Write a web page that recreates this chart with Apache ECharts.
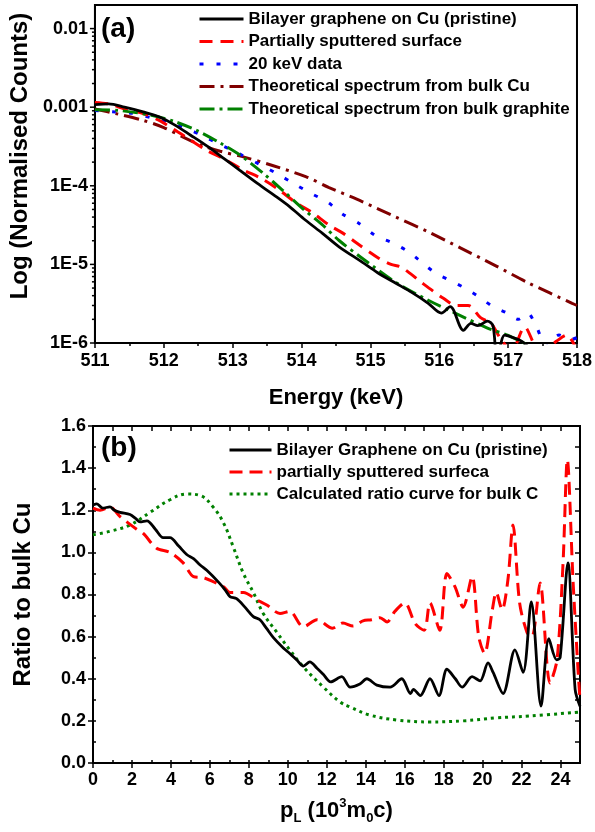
<!DOCTYPE html>
<html><head><meta charset="utf-8">
<script src="https://cdn.jsdelivr.net/npm/echarts@6/dist/echarts.min.js"></script>
<style>html,body{margin:0;padding:0;background:#fff}#c{width:595px;height:832px}</style>
</head><body><div id="c"></div><script>
const FONT = 'Arial, "Liberation Sans", sans-serif';

// ---------- Panel (a): Energy (keV) vs normalised counts ----------
const aPristine = [[511.0,1.08e-3],[511.2,1.1e-3],[511.43,1.0e-3],[511.7,8.7e-4],[511.92,7.6e-4],[512.15,6.0e-4],[512.39,4.4e-4],[512.63,3.2e-4],[512.87,2.24e-4],[513.1,1.58e-4],[513.36,1.07e-4],[513.6,7.6e-5],[513.83,5.4e-5],[514.05,3.7e-5],[514.3,2.5e-5],[514.55,1.66e-5],[514.88,1.07e-5],[515.1,7.9e-6],[515.37,5.75e-6],[515.6,4.4e-6],[515.84,3.2e-6],[516.03,2.4e-6],[516.16,2.9e-6],[516.35,1.45e-6],[516.46,1.78e-6],[516.56,1.66e-6],[516.7,1.9e-6],[516.78,1.66e-6],[516.84,6e-7],[516.95,1.26e-6],[517.1,1.15e-6],[517.2,1.05e-6],[517.35,8e-7]];
const aSputtered = [[511.0,1.15e-3],[511.2,1.1e-3],[511.43,9.5e-4],[511.7,8.3e-4],[511.92,6.9e-4],[512.15,5.2e-4],[512.39,3.8e-4],[512.63,2.8e-4],[512.87,2.2e-4],[513.16,1.58e-4],[513.4,1.26e-4],[513.64,9.3e-5],[513.93,6.0e-5],[514.15,4.6e-5],[514.4,3.16e-5],[514.6,2.5e-5],[514.79,1.9e-5],[515.12,1.2e-5],[515.3,1.0e-5],[515.44,9.3e-6],[515.6,7.4e-6],[515.74,5.9e-6],[516.06,3.7e-6],[516.25,3.0e-6],[516.42,3.0e-6],[516.6,2.1e-6],[516.75,1.78e-6],[516.9,1.1e-6],[517.05,8e-7],[517.24,1.6e-6],[517.4,9e-7],[517.52,8e-7],[517.7,1.05e-6],[517.85,1.26e-6],[518.0,8e-7]];
const a20keV = [[511.0,9.1e-4],[511.3,8.7e-4],[511.57,8.3e-4],[511.85,7.2e-4],[512.08,6.5e-4],[512.32,5.4e-4],[512.57,4.3e-4],[512.8,3.4e-4],[513.04,2.7e-4],[513.43,1.8e-4],[513.66,1.4e-4],[513.9,1.05e-4],[514.15,7.9e-5],[514.38,6.2e-5],[514.59,4.4e-5],[514.84,3.3e-5],[515.08,2.3e-5],[515.31,1.9e-5],[515.55,1.45e-5],[515.94,7.8e-6],[516.15,6.3e-6],[516.37,5.0e-6],[516.59,3.8e-6],[516.78,2.9e-6],[516.99,2.4e-6],[517.15,2.0e-6],[517.28,2.4e-6],[517.42,1.55e-6],[517.55,9e-7],[517.74,1.26e-6],[517.9,1.1e-6],[518.0,1.17e-6]];
const aTheoryCu = [[511.0,9.5e-4],[511.3,8.3e-4],[511.7,6.8e-4],[512.0,5.5e-4],[512.35,3.9e-4],[512.58,3.2e-4],[512.82,2.75e-4],[513.18,2.3e-4],[513.59,1.8e-4],[514.07,1.3e-4],[514.4,9.5e-5],[514.88,6.3e-5],[515.37,4.0e-5],[515.84,2.6e-5],[516.32,1.6e-5],[516.8,9.8e-6],[517.28,5.9e-6],[517.93,3.2e-6],[518.0,3.0e-6]];
const aTheoryGraphite = [[511.0,9.3e-4],[511.34,9.1e-4],[511.82,7.9e-4],[512.15,6.6e-4],[512.49,5.0e-4],[512.82,3.5e-4],[513.11,2.45e-4],[513.44,1.45e-4],[513.73,8.7e-5],[514.02,5.1e-5],[514.3,3.2e-5],[514.55,2.0e-5],[514.88,1.2e-5],[515.37,5.9e-6],[515.84,3.5e-6],[516.23,2.4e-6],[516.7,1.55e-6],[516.99,1.26e-6],[517.28,9.5e-7]];
const aYTickLabels = {'-6':'1E-6','-5':'1E-5','-4':'1E-4','-3':'0.001','-2':'0.01'};
const aNames = ['Bilayer graphene on Cu (pristine)','Partially sputtered surface','20 keV data','Theoretical spectrum from bulk Cu','Theoretical spectrum fron bulk graphite'];

// ---------- Panel (b): p_L vs ratio to bulk Cu ----------
const bPristine = [[0,1.225],[0.2,1.23],[0.5,1.21],[0.87,1.216],[1.1,1.2],[1.39,1.19],[1.9,1.18],[2.2,1.16],[2.41,1.145],[2.77,1.15],[3.2,1.11],[3.6,1.07],[3.95,1.07],[4.4,1.03],[4.81,0.99],[5.16,0.97],[5.5,0.94],[5.84,0.915],[6.43,0.86],[6.8,0.82],[7.03,0.79],[7.37,0.78],[7.8,0.74],[8.23,0.695],[8.57,0.68],[8.9,0.64],[9.26,0.595],[9.77,0.546],[10.1,0.52],[10.45,0.49],[10.8,0.46],[11.13,0.48],[11.5,0.45],[11.83,0.42],[12.2,0.385],[12.77,0.41],[13.2,0.36],[13.7,0.375],[14.06,0.40],[14.57,0.37],[15.25,0.36],[15.85,0.40],[16.3,0.33],[16.45,0.35],[16.8,0.32],[17.3,0.40],[17.76,0.32],[18.17,0.445],[18.6,0.40],[18.95,0.36],[19.46,0.41],[19.87,0.39],[20.28,0.475],[20.54,0.43],[21.05,0.33],[21.66,0.537],[22.08,0.43],[22.5,0.765],[23.0,0.27],[23.4,0.59],[23.8,0.49],[23.98,0.50],[24.38,0.95],[24.75,0.35],[25,0.27]];
const bSputtered = [[0,1.21],[0.36,1.20],[0.87,1.215],[1.39,1.17],[1.8,1.14],[2.24,1.11],[2.58,1.09],[3.26,1.02],[3.95,1.00],[4.63,0.95],[5.16,0.885],[5.67,0.88],[6.2,0.86],[6.7,0.837],[7.03,0.81],[7.72,0.81],[8.4,0.775],[8.92,0.75],[9.6,0.71],[10.1,0.72],[10.8,0.646],[11.5,0.68],[12.3,0.64],[12.83,0.665],[13.35,0.65],[13.86,0.675],[14.3,0.68],[14.73,0.69],[15.1,0.67],[15.5,0.72],[16.0,0.76],[16.55,0.66],[17.0,0.63],[17.3,0.76],[17.8,0.63],[18.17,0.90],[18.58,0.837],[19.0,0.74],[19.46,0.885],[19.8,0.60],[20.1,0.52],[20.5,0.727],[20.7,0.81],[21.0,0.727],[21.3,0.87],[21.56,1.13],[21.9,0.76],[22.28,0.62],[22.53,0.60],[22.95,0.855],[23.46,0.38],[23.82,0.49],[24.13,0.95],[24.35,1.44],[24.64,0.87],[24.9,0.44],[25,0.30]];
const bCalcC = [[0,1.083],[0.87,1.10],[1.9,1.13],[2.93,1.19],[3.95,1.25],[4.81,1.277],[5.5,1.27],[6.16,1.216],[6.7,1.14],[7.2,1.026],[7.72,0.90],[8.23,0.81],[8.74,0.71],[9.44,0.62],[10.1,0.537],[10.8,0.456],[11.83,0.36],[12.68,0.29],[13.2,0.266],[14.2,0.228],[15.6,0.204],[17.3,0.195],[19.0,0.20],[20.7,0.214],[22.4,0.223],[25,0.242]];
const bNames = ['Bilayer Graphene on Cu (pristine)','partially sputtered surfeca','Calculated ratio curve for bulk C'];

// log minor/major tick positions for panel (a) y axis
const aLogTicks = [];
for (let d = -6; d <= -2; d++) {
  aLogTicks.push([511, d, 1]);
  if (d < -2) for (let k = 2; k <= 9; k++) aLogTicks.push([511, d + Math.log10(k), 0]);
}

const toLog = arr => arr.map(p => [p[0], Math.log10(p[1])]);
const bold = {fontFamily: FONT, fontWeight: 'bold', color: '#000'};

const chart = echarts.init(document.getElementById('c'), null, {renderer: 'canvas'});
const axisLine = {show: true, onZero: false, lineStyle: {color: '#000', width: 2}};

function lineSeries(name, data, color, type, xi, yi, width, smooth) {
  return {name, type: 'line', xAxisIndex: xi, yAxisIndex: yi, data, showSymbol: false, symbol: 'none',
    smooth: smooth, clip: true, lineStyle: {color, width: width, type: type}, itemStyle: {color}, z: 3};
}

chart.setOption({
  animation: false,
  backgroundColor: '#fff',
  textStyle: {fontFamily: FONT},
  grid: [
    {left: 93, top: 5, width: 487, height: 338, show: true, borderColor: '#000', borderWidth: 2, backgroundColor: 'transparent'},
    {left: 93, top: 426, width: 487, height: 337, show: true, borderColor: '#000', borderWidth: 2, backgroundColor: 'transparent'}
  ],
  legend: [
    {data: aNames, orient: 'vertical', left: 193, top: 5, itemWidth: 44, itemHeight: 14, itemGap: 4.5,
      itemStyle: {opacity: 0}, lineStyle: {width: 3},
      textStyle: Object.assign({fontSize: 17, lineHeight: 18}, bold), selectedMode: false},
    {data: bNames, orient: 'vertical', left: 223, top: 436, itemWidth: 42, itemHeight: 14, itemGap: 4,
      itemStyle: {opacity: 0}, lineStyle: {width: 3},
      textStyle: Object.assign({fontSize: 17, lineHeight: 18}, bold), selectedMode: false}
  ],
  xAxis: [
    {gridIndex: 0, type: 'value', min: 511, max: 518, interval: 1, axisLine,
      axisTick: {show: true, length: 5, lineStyle: {width: 1.5, color: '#000'}},
      minorTick: {show: true, splitNumber: 2, length: 3, lineStyle: {width: 1.5, color: '#000'}},
      splitLine: {show: false}, minorSplitLine: {show: false},
      axisLabel: Object.assign({fontSize: 18, margin: 9}, bold),
      name: 'Energy (keV)', nameLocation: 'middle', nameGap: 44, nameTextStyle: Object.assign({fontSize: 22}, bold)},
    {gridIndex: 1, type: 'value', min: 0, max: 25, interval: 2, axisLine,
      axisTick: {show: true, length: 5, lineStyle: {width: 1.5, color: '#000'}},
      splitLine: {show: false},
      axisLabel: Object.assign({fontSize: 18, margin: 8}, bold),
      name: '{p|p}{sub|L}{t| (10}{sup|3}{t|m}{sub|0}{t|c)}', nameLocation: 'middle', nameGap: 34,
      nameTextStyle: {rich: {
        p: Object.assign({fontSize: 22, lineHeight: 28, verticalAlign: 'middle'}, bold),
        t: Object.assign({fontSize: 22, lineHeight: 28, verticalAlign: 'middle'}, bold),
        sub: Object.assign({fontSize: 13, lineHeight: 28, verticalAlign: 'bottom'}, bold),
        sup: Object.assign({fontSize: 13, lineHeight: 28, verticalAlign: 'top'}, bold)
      }}},
    {gridIndex: 1, type: 'value', position: 'top', min: 0, max: 25, interval: 1, axisLine,
      axisTick: {show: true, inside: true, length: 5, lineStyle: {width: 1.5, color: '#000'}},
      axisLabel: {show: false}, splitLine: {show: false}},
    {gridIndex: 1, type: 'value', position: 'bottom', min: 0, max: 25, interval: 1, axisLine: {show: false},
      axisTick: {show: true, inside: true, length: 3, lineStyle: {width: 1.5, color: '#000'}},
      axisLabel: {show: false}, splitLine: {show: false}}
  ],
  yAxis: [
    {gridIndex: 0, type: 'value', min: -6, max: -1.7, interval: 1, axisLine,
      axisTick: {show: false}, splitLine: {show: false},
      axisLabel: Object.assign({fontSize: 18, margin: 7, showMaxLabel: false,
        formatter: v => { const r = Math.round(v); return Math.abs(v - r) < 1e-6 ? (aYTickLabels[String(r)] || '') : ''; }}, bold),
      name: 'Log (Normalised Counts)', nameLocation: 'middle', nameGap: 58, nameRotate: 90,
      nameTextStyle: Object.assign({fontSize: 24, padding: [0, 0, 0, 36]}, bold)},
    {gridIndex: 1, type: 'value', min: 0, max: 1.6, interval: 0.2, axisLine,
      axisTick: {show: true, length: 5, lineStyle: {width: 1.5, color: '#000'}}, splitLine: {show: false},
      axisLabel: Object.assign({fontSize: 18, margin: 7, formatter: v => v.toFixed(1)}, bold),
      name: 'Ratio to bulk Cu', nameLocation: 'middle', nameGap: 58, nameRotate: 90,
      nameTextStyle: Object.assign({fontSize: 24}, bold)},
    {gridIndex: 1, type: 'value', position: 'right', min: 0, max: 1.6, interval: 0.1, axisLine,
      axisTick: {show: true, inside: true, length: 5, lineStyle: {width: 1.5, color: '#000'}},
      axisLabel: {show: false}, splitLine: {show: false}},
    {gridIndex: 1, type: 'value', position: 'left', min: 0, max: 1.6, interval: 0.1, axisLine: {show: false},
      axisTick: {show: true, inside: true, length: 3, lineStyle: {width: 1.5, color: '#000'}},
      axisLabel: {show: false}, splitLine: {show: false}}
  ],
  graphic: [
    {type: 'text', left: 101, top: 15, style: {text: '(a)', font: 'bold 28px ' + FONT, fill: '#000'}},
    {type: 'text', left: 101, top: 434, style: {text: '(b)', font: 'bold 28px ' + FONT, fill: '#000'}}
  ],
  series: [
    lineSeries(aNames[3], toLog(aTheoryCu), '#800000', [15, 6, 3, 6], 0, 0, 3, 0.3),
    lineSeries(aNames[2], toLog(a20keV), '#0000ff', [4, 13], 0, 0, 3, 0.3),
    lineSeries(aNames[1], toLog(aSputtered), '#ff0000', [13, 8], 0, 0, 3, 0.3),
    lineSeries(aNames[4], toLog(aTheoryGraphite), '#008000', [15, 5, 3, 5], 0, 0, 3, 0.3),
    lineSeries(aNames[0], toLog(aPristine), '#000000', 'solid', 0, 0, 2.8, 0.3),
    {type: 'custom', xAxisIndex: 0, yAxisIndex: 0, data: aLogTicks, silent: true, z: 5,
      encode: {x: 0, y: 1},
      renderItem: (params, api) => {
        const p = api.coord([api.value(0), api.value(1)]);
        const len = api.value(2) ? 5 : 3;
        return {type: 'line', shape: {x1: p[0] - len, y1: p[1], x2: p[0], y2: p[1]},
          style: {stroke: '#000', lineWidth: 1.5}};
      }},
    lineSeries(bNames[2], bCalcC, '#008000', [3, 4], 1, 1, 3, 0.4),
    lineSeries(bNames[1], bSputtered, '#ff0000', [13, 7], 1, 1, 3, 0.3),
    lineSeries(bNames[0], bPristine, '#000000', 'solid', 1, 1, 2.8, 0.3)
  ]
});
</script></body></html>
